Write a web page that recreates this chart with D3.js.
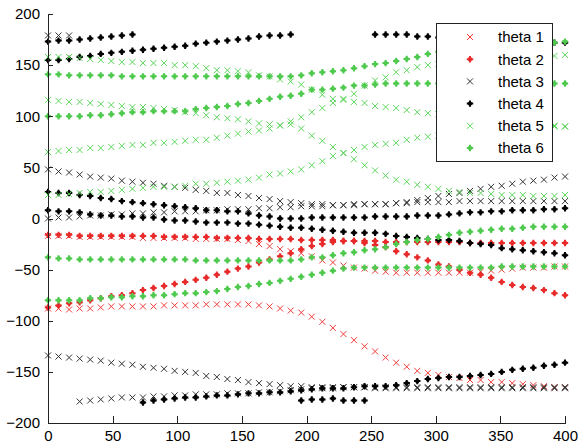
<!DOCTYPE html>
<html>
<head>
<meta charset="utf-8">
<script src="https://cdn.jsdelivr.net/npm/d3@7"></script>
<style>
  body { margin: 0; background: #fff; }
  svg { display: block; }
  text { font-family: "Liberation Sans", Arial, sans-serif; font-size: 15px; fill: #000; }
</style>
</head>
<body>
<svg id="chart" width="580" height="447"></svg>
<script>
// Sample positions along the horizontal axis (50 samples, 0..400)
const sampleX = [0,8.16,16.33,24.49,32.65,40.82,48.98,57.14,65.31,73.47,
  81.63,89.8,97.96,106.12,114.29,122.45,130.61,138.78,146.94,155.1,
  163.27,171.43,179.59,187.76,195.92,204.08,212.24,220.41,228.57,236.73,
  244.9,253.06,261.22,269.39,277.55,285.71,293.88,302.04,310.2,318.37,
  326.53,334.69,342.86,351.02,359.18,367.35,375.51,383.67,391.84,400];

const xTicks = [0,50,100,150,200,250,300,350,400];
const yTicks = [-200,-150,-100,-50,0,50,100,150,200];

// theta 1 branches
const theta1a = [-88,-88,-89,-88,-88,-87,-86,-86,-86,-86,
  -86,-85,-85,-85,-85,-84,-84,-84,-84,-84,
  -85,-86,-88,-90,-92,-96,-101,-107,-113,-119,
  -125,-130,-136,-141,-145,-149,-151,-153,-155,-156,
  -158,-158,-160,-160,-161,-162,-163,-164,-165,-165];
const theta1b = [-17,-17,-17,-18,-18,-18,-18,-18,-18,-19,
  -19,-19,-19,-19,-20,-20,-20,-20,-21,-22,
  -25,-27,-30,-32,-34,-37,-41,-43,-46,-48,
  -49,-51,-52,-53,-53,-53,-53,-53,-53,-53,
  -53,-52,-51,-50,-49,-48,-48,-48,-47,-47];

// theta 2 branches
const theta2a = [-16,-16,-16,-17,-17,-17,-17,-17,-17,-17,
  -17,-18,-18,-18,-18,-18,-19,-19,-19,-19,
  -20,-20,-20,-20,-21,-21,-21,-21,-22,-22,
  -22,-22,-23,-23,-23,-23,-23,-23,-23,-23,
  -24,-24,-24,-24,-24,-24,-24,-24,-24,-24];
const theta2b = [-87,-85,-83,-82,-80,-78,-76,-75,-73,-70,
  -68,-66,-64,-62,-60,-58,-55,-52,-49,-47,
  -43,-40,-37,-34,-30,-27,-25,-23,-22,-22,
  -24,-26,-28,-32,-35,-38,-41,-45,-47,-50,
  -53,-55,-58,-62,-65,-67,-68,-70,-73,-75];

// theta 3 branches
const theta3a = [179,179,179,-179,-178,-177,-176,-175,-175,-175,
  -174,-174,-173,-173,-172,-172,-172,-171,-171,-171,
  -170,-170,-169,-168,-167,-166,-166,-166,-165,-165,
  -165,-166,-166,-166,-166,-166,-165,-165,-165,-165,
  -165,-165,-165,-165,-165,-165,-165,-165,-165,-165];
const theta3b = [-134,-135,-136,-137,-138,-139,-141,-142,-143,-145,
  -146,-147,-149,-150,-151,-154,-155,-157,-158,-160,
  -161,-162,-163,-164,-164,-165,-165,-165,-165,-165,
  -165,-165,-165,-165,-165,-165,-166,-166,-166,-166,
  -166,-166,-166,-166,-166,-166,-166,-166,-166,-166];
const theta3c = [0,1,1,2,3,3,4,4,5,5,
  6,6,7,7,7,8,8,9,9,9,
  10,10,11,11,12,12,12,13,13,13,
  14,14,14,15,15,16,16,16,16,17,
  17,17,17,17,17,17,17,17,17,17];
const theta3d = [48,46,45,43,41,40,39,37,36,35,
  34,32,31,30,28,27,25,25,23,22,
  20,19,17,16,15,14,14,13,13,14,
  14,14,14,15,16,18,20,22,24,25,
  27,29,31,32,34,36,37,38,40,41];

// theta 4 branches
const theta4a = [173,174,174,175,176,177,178,179,180,-180,
  -178,-177,-176,-175,-175,-174,-173,-173,-172,-171,
  -171,-170,-170,-169,-168,-167,-166,-166,-166,-165,
  -164,-164,-164,-163,-161,-159,-157,-156,-155,-155,
  -154,-153,-152,-150,-148,-147,-146,-144,-143,-141];
const theta4b = [155,155,156,158,159,161,162,163,164,165,
  166,167,168,169,171,172,173,174,175,176,
  178,179,179,180,-178,-177,-177,-176,-178,-178,
  -178,180,180,180,180,178,178,177,177,176,
  176,175,175,174,174,173,173,172,172,172];
const theta4c = [26,25,25,23,22,20,19,17,16,15,
  14,13,12,11,10,8,8,7,7,5,
  3,2,0,0,0,1,1,1,1,1,
  1,2,2,2,2,3,3,3,4,5,
  6,6,7,7,8,8,8,9,9,10];
const theta4d = [8,7,7,6,4,3,3,2,2,1,
  1,-1,-2,-2,-3,-4,-4,-4,-5,-5,
  -6,-7,-8,-9,-9,-10,-11,-12,-13,-14,
  -14,-14,-15,-17,-18,-19,-20,-21,-21,-22,
  -24,-25,-26,-29,-30,-31,-32,-33,-34,-36];

// theta 5 branches
const theta5a = [158,158,158,157,156,155,154,153,153,152,
  152,152,150,150,149,147,145,145,144,143,
  140,139,136,134,131,126,121,117,116,114,
  113,110,109,108,106,104,103,102,101,100,
  99,98,97,96,95,94,93,92,91,90];
const theta5b = [116,115,114,114,113,112,111,110,109,109,
  108,107,106,104,103,101,99,98,97,95,
  93,92,91,95,99,104,108,113,117,122,
  130,135,138,143,145,148,150,151,152,153,
  154,155,156,156,157,158,158,159,159,160];
const theta5c = [23,23,24,25,26,26,27,28,29,30,
  31,31,31,32,34,34,35,36,37,38,
  40,43,44,46,48,52,56,61,64,67,
  70,72,73,74,77,79,80,81,82,83,
  84,85,86,87,88,88,89,89,90,90];
const theta5d = [65,66,67,67,69,69,70,71,72,72,
  74,74,75,76,77,77,79,81,83,85,
  86,88,91,92,88,81,76,70,64,58,
  52,47,42,38,36,33,31,29,27,26,
  25,25,24,23,23,23,22,22,22,23];

// theta 6 branches
const theta6a = [141,141,140,140,140,140,140,139,139,139,
  139,139,139,139,139,139,139,139,139,139,
  139,139,139,139,140,142,143,144,145,147,
  149,151,152,154,156,158,161,163,164,165,
  166,167,168,169,169,170,171,171,172,173];
const theta6b = [100,100,100,100,101,101,102,103,104,104,
  105,105,105,105,107,108,109,110,112,113,
  115,117,119,120,122,126,126,127,128,130,
  130,131,132,132,132,132,132,132,132,132,
  132,132,132,132,132,132,132,132,132,132];
const theta6c = [-38,-39,-39,-40,-40,-40,-40,-40,-40,-40,
  -40,-40,-40,-40,-41,-41,-41,-41,-41,-41,
  -41,-41,-41,-41,-40,-38,-38,-36,-34,-33,
  -31,-30,-28,-25,-23,-21,-20,-18,-16,-14,
  -13,-12,-11,-10,-10,-9,-8,-8,-8,-8];
const theta6d = [-80,-80,-80,-80,-78,-78,-77,-77,-76,-76,
  -75,-75,-74,-73,-73,-72,-71,-69,-67,-66,
  -64,-63,-61,-59,-57,-55,-53,-51,-49,-48,
  -48,-48,-48,-48,-48,-48,-48,-48,-48,-48,
  -48,-48,-48,-47,-47,-47,-47,-47,-47,-47];

const seriesNames = ["theta 1","theta 2","theta 3","theta 4","theta 5","theta 6"];
const seriesMarkers = ["x","dot","x","dot","x","dot"];
const seriesColors = ["#f23a3a","#e82a2a","#333333","#000000","#5ad65a","#4fca4f"];
const seriesTracks = [
  [theta1a, theta1b],
  [theta2a, theta2b],
  [theta3a, theta3b, theta3c, theta3d],
  [theta4a, theta4b, theta4c, theta4d],
  [theta5a, theta5b, theta5c, theta5d],
  [theta6a, theta6b, theta6c, theta6d]
];

const svg = d3.select("#chart");
const x = d3.scaleLinear().domain([0, 400]).range([48, 565]);
const y = d3.scaleLinear().domain([-200, 200]).range([423, 14]);

// markers: thin cross for "x", small filled blob for dots
const crossPath = "M-3,-3L3,3M-3,3L3,-3";
const blobPath = "M-1,-3.2H1V-1H3.2V1H1V3.2H-1V1H-3.2V-1H-1Z";
function drawMarker(g, kind, color) {
  if (kind === "x") {
    g.append("path").attr("d", crossPath)
      .attr("fill", "none").attr("stroke", color).attr("stroke-width", 1);
  } else {
    g.append("circle").attr("r", 2.2).attr("fill", color);
    g.append("path").attr("d", blobPath).attr("fill", color);
  }
}

// points
const plot = svg.append("g");
seriesTracks.forEach((tracks, s) => {
  const pts = [];
  tracks.forEach(track => track.forEach((v, i) => {
    if (v !== null) pts.push([sampleX[i], v]);
  }));
  plot.append("g").selectAll("g").data(pts).join("g")
    .attr("transform", d => `translate(${x(d[0])},${y(d[1])})`)
    .each(function() { drawMarker(d3.select(this), seriesMarkers[s], seriesColors[s]); });
});

// axes
const xAxis = d3.axisBottom(x).tickValues(xTicks).tickSizeInner(-7).tickSizeOuter(0).tickPadding(7);
const yAxis = d3.axisLeft(y).tickValues(yTicks).tickSizeInner(-5).tickSizeOuter(0).tickPadding(8);
const gx = svg.append("g").attr("transform", "translate(0,423)").call(xAxis);
const gy = svg.append("g").attr("transform", "translate(48,0)").call(yAxis);
[gx, gy].forEach(g => {
  g.selectAll("path, line").attr("stroke", "#222").attr("shape-rendering", "crispEdges");
  g.selectAll("text").attr("font-size", 15).attr("font-family", "Liberation Sans, Arial, sans-serif").attr("fill", "#000");
});

// legend
const legend = svg.append("g");
legend.append("rect").attr("x", 436.5).attr("y", 23.5).attr("width", 116).attr("height", 138)
  .attr("fill", "#fff").attr("stroke", "#222").attr("stroke-width", 1);
seriesNames.forEach((name, s) => {
  const ly = 37 + s * 22.2;
  const mg = legend.append("g").attr("transform", `translate(470,${ly})`);
  drawMarker(mg, seriesMarkers[s], seriesColors[s]);
  legend.append("text").attr("x", 498).attr("y", ly).attr("dy", "0.36em").text(name);
});
</script>
</body>
</html>
